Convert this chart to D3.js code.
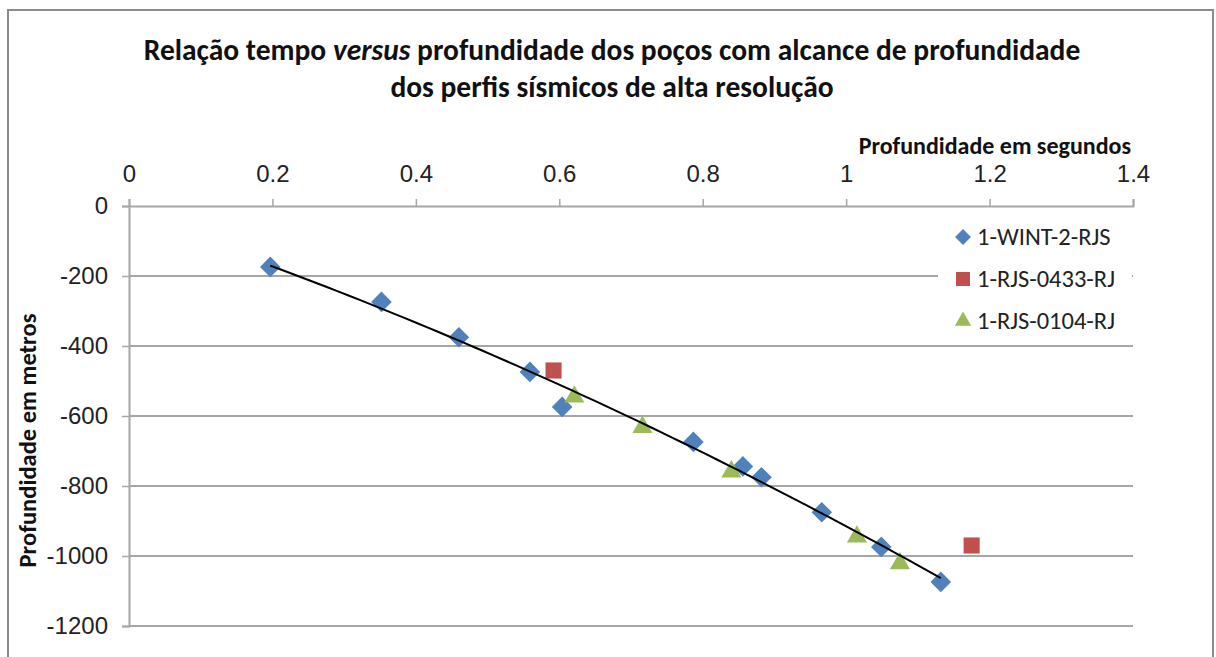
<!DOCTYPE html>
<html>
<head>
<meta charset="utf-8">
<script src="https://cdn.jsdelivr.net/npm/d3@7"></script>
<style>
  html, body { margin: 0; padding: 0; background: #fff; }
  svg { display: block; font-family: Carlito, "Liberation Sans Narrow", "Liberation Sans", Arial, sans-serif; }
</style>
</head>
<body>
<div id="chart"></div>
<script>
// series
const wintX = [0.197, 0.352, 0.460, 0.559, 0.604, 0.787, 0.856, 0.882, 0.966, 1.049, 1.132];
const wintY = [-174, -274, -375, -474, -574, -674, -744, -775, -875, -974, -1074];
const rjs0433X = [0.592, 1.175];
const rjs0433Y = [-470, -970];
const rjs0104X = [0.621, 0.716, 0.840, 1.015, 1.075];
const rjs0104Y = [-545, -632, -759, -945, -1021];

const seriesNames = ['1-WINT-2-RJS', '1-RJS-0433-RJ', '1-RJS-0104-RJ'];
const xTicks = [0, 0.2, 0.4, 0.6, 0.8, 1, 1.2, 1.4];
const yTicks = [0, -200, -400, -600, -800, -1000, -1200];
const titleLines = ['Relação tempo versus profundidade dos poços com alcance de profundidade',
                    'dos perfis sísmicos de alta resolução'];

const W = 1216, H = 657;
const margin = {top: 206, right: 83, bottom: 31, left: 129};

const svg = d3.select('#chart').append('svg')
    .attr('width', W)
    .attr('height', H);

// outer chart frame
svg.append('rect')
    .attr('x', 8).attr('y', 10)
    .attr('width', 1205).attr('height', 700)
    .attr('fill', '#fff')
    .attr('stroke', '#8c8c8c')
    .attr('stroke-width', 2);

const x = d3.scaleLinear().domain([0, 1.4]).range([margin.left, W - margin.right]);
const y = d3.scaleLinear().domain([-1200, 0]).range([H - margin.bottom, margin.top]);

// gridlines
svg.append('g')
    .selectAll('line')
    .data(yTicks.slice(1))
    .enter().append('line')
    .attr('x1', x(0)).attr('x2', x(1.4))
    .attr('y1', d => y(d)).attr('y2', d => y(d))
    .attr('stroke', '#a6a6a6')
    .attr('stroke-width', 2);

// top x axis
const xAxis = svg.append('g')
    .attr('transform', `translate(0,${y(0)})`)
    .call(d3.axisTop(x).tickValues(xTicks).tickSize(7).tickPadding(17)
        .tickFormat(d => String(+d.toFixed(1))));
xAxis.select('.domain').attr('stroke', '#a6a6a6').attr('stroke-width', 2);
xAxis.selectAll('.tick line').attr('stroke', '#a6a6a6').attr('stroke-width', 1.5);
xAxis.selectAll('.tick text').attr('font-size', 24).attr('fill', '#222');

// left y axis
const yAxis = svg.append('g')
    .attr('transform', `translate(${x(0)},0)`)
    .call(d3.axisLeft(y).tickValues(yTicks).tickSize(7).tickPadding(14)
        .tickFormat(d => String(d)));
yAxis.select('.domain').attr('stroke', '#a6a6a6').attr('stroke-width', 2);
yAxis.selectAll('.tick line').attr('stroke', '#a6a6a6').attr('stroke-width', 1.5);
yAxis.selectAll('.tick text').attr('font-size', 24).attr('fill', '#222');

// title
const title = svg.append('text')
    .attr('text-anchor', 'middle')
    .attr('font-weight', 'bold')
    .attr('font-size', 29.5)
    .attr('fill', '#111');
const t1 = title.append('tspan').attr('x', 612).attr('y', 60);
t1.append('tspan').text('Relação tempo ');
t1.append('tspan').attr('font-style', 'italic').text('versus');
t1.append('tspan').text(' profundidade dos poços com alcance de profundidade');
title.append('tspan').attr('x', 612).attr('y', 97).text(titleLines[1]);

// axis titles
svg.append('text')
    .attr('x', 1131).attr('y', 154)
    .attr('text-anchor', 'end')
    .attr('font-weight', 'bold')
    .attr('font-size', 24)
    .attr('fill', '#111')
    .text('Profundidade em segundos');

svg.append('text')
    .attr('transform', `translate(36,${(y(-190) + y(-1150)) / 2}) rotate(-90)`)
    .attr('text-anchor', 'middle')
    .attr('font-weight', 'bold')
    .attr('font-size', 24.5)
    .attr('fill', '#111')
    .text('Profundidade em metros');

// quadratic trendline fitted to the 1-WINT-2-RJS well
function polyFit2(xs, ys) {
    const n = xs.length;
    let s = [0, 0, 0, 0, 0], t = [0, 0, 0];
    for (let i = 0; i < n; i++) {
        for (let k = 0; k < 5; k++) s[k] += Math.pow(xs[i], k);
        for (let k = 0; k < 3; k++) t[k] += ys[i] * Math.pow(xs[i], k);
    }
    const A = [[s[0], s[1], s[2], t[0]], [s[1], s[2], s[3], t[1]], [s[2], s[3], s[4], t[2]]];
    for (let i = 0; i < 3; i++) {
        for (let j = i + 1; j < 3; j++) {
            const f = A[j][i] / A[i][i];
            for (let k = i; k < 4; k++) A[j][k] -= f * A[i][k];
        }
    }
    const c = [0, 0, 0];
    for (let i = 2; i >= 0; i--) {
        let v = A[i][3];
        for (let k = i + 1; k < 3; k++) v -= A[i][k] * c[k];
        c[i] = v / A[i][i];
    }
    return c;
}
const coef = polyFit2(wintX, wintY);
const xMin = d3.min(wintX), xMax = d3.max(wintX);
const trend = d3.range(0, 61).map(i => {
    const xv = xMin + (xMax - xMin) * i / 60;
    return [xv, coef[0] + coef[1] * xv + coef[2] * xv * xv];
});

// markers
const colors = ['#4f81bd', '#c0504d', '#9bbb59'];
const symbols = [
    d3.symbol().type(d3.symbolDiamond2).size(270),
    d3.symbol().type(d3.symbolSquare2).size(330),
    d3.symbol().type(d3.symbolTriangle2).size(290)
];
const series = [
    d3.zip(wintX, wintY),
    d3.zip(rjs0433X, rjs0433Y),
    d3.zip(rjs0104X, rjs0104Y)
];

series.forEach((pts, i) => {
    svg.append('g')
        .selectAll('path')
        .data(pts)
        .enter().append('path')
        .attr('transform', d => `translate(${x(d[0])},${y(d[1])})`)
        .attr('d', symbols[i])
        .attr('fill', colors[i]);
});

// trendline drawn over the markers
svg.append('path')
    .datum(trend)
    .attr('fill', 'none')
    .attr('stroke', '#000')
    .attr('stroke-width', 2)
    .attr('d', d3.line().x(d => x(d[0])).y(d => y(d[1])));

// legend
const legend = svg.append('g').attr('transform', 'translate(938,218)');
legend.append('rect')
    .attr('width', 194).attr('height', 120)
    .attr('fill', '#fff');
const legendSymbols = [
    d3.symbol().type(d3.symbolDiamond2).size(160),
    d3.symbol().type(d3.symbolSquare2).size(250),
    d3.symbol().type(d3.symbolTriangle2).size(190)
];
seriesNames.forEach((name, i) => {
    const g = legend.append('g').attr('transform', `translate(25,${19 + i * 42})`);
    g.append('path')
        .attr('d', legendSymbols[i]())
        .attr('fill', colors[i]);
    g.append('text')
        .attr('x', 14).attr('y', 8)
        .attr('font-size', 24.5)
        .attr('fill', '#222')
        .text(name);
});
</script>
</body>
</html>
